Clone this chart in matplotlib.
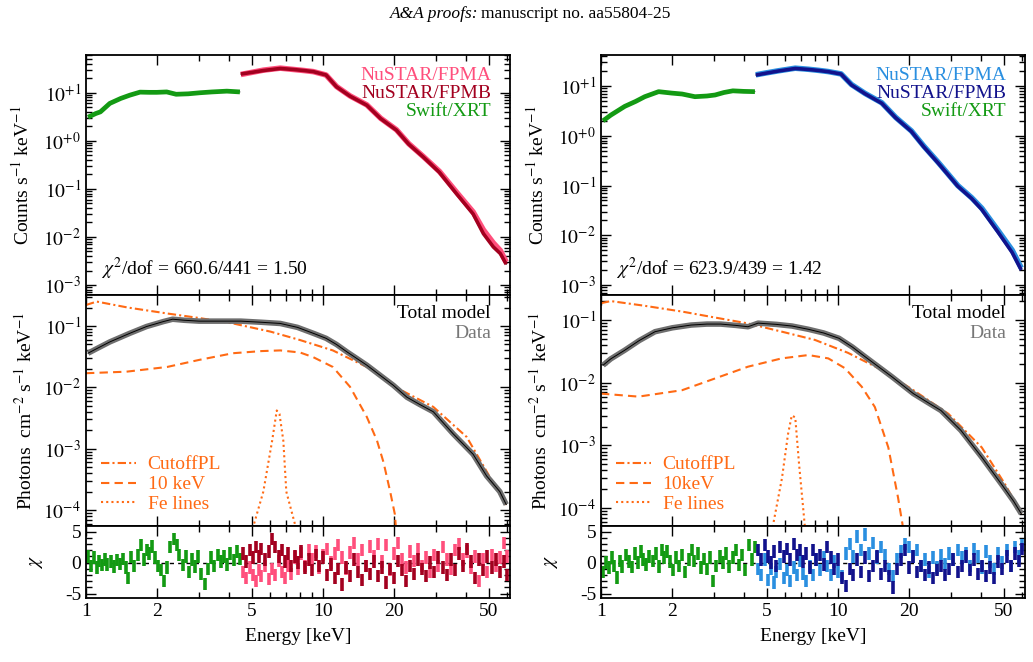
import numpy as np
import matplotlib
matplotlib.use("Agg")
import matplotlib.pyplot as plt
from matplotlib.ticker import FixedLocator, FuncFormatter, NullFormatter
from matplotlib.lines import Line2D

plt.rcParams['font.family'] = ['Liberation Serif', 'DejaVu Serif']
plt.rcParams['mathtext.fontset'] = 'stix'

# ---------------- data ----------------
# Top panels: folded count spectra
swift_E_L = [1.02, 1.1, 1.15, 1.26, 1.4, 1.53, 1.69, 1.85, 1.99, 2.19, 2.4, 2.7, 3.03, 3.4, 3.93, 4.46]
swift_C_L = [3.1, 3.7, 4.0, 6.0, 7.6, 8.9, 10.3, 10.2, 10.2, 10.4, 9.3, 9.5, 10.0, 10.4, 10.8, 10.4]
nuA_E_L = [4.5, 5.0, 5.6, 6.6, 7.5, 8.3, 9.1, 10.3, 11.4, 13.0, 15.3, 17.5, 20.4, 23.0, 26.5, 31.0, 36.6, 43.0, 47.5, 52.3, 56.0, 59.3]
nuA_C_L = [24.0, 26.5, 29.5, 32.5, 30.5, 29.0, 27.5, 23.4, 13.5, 8.6, 5.6, 2.95, 1.7, 0.87, 0.47, 0.23, 0.085, 0.033, 0.014, 0.0075, 0.0052, 0.0030]
nuB_C_L = [24.5, 26.5, 29.0, 32.0, 30.5, 29.0, 27.5, 23.4, 13.3, 8.5, 5.5, 2.9, 1.67, 0.85, 0.46, 0.22, 0.079, 0.030, 0.0117, 0.0062, 0.0045, 0.0027]

swift_E_R = [1.02, 1.1, 1.26, 1.4, 1.53, 1.75, 1.99, 2.2, 2.49, 2.8, 3.03, 3.3, 3.6, 4.0, 4.46]
swift_C_R = [2.0, 2.6, 3.9, 4.9, 6.1, 7.7, 7.2, 6.9, 6.1, 6.3, 6.6, 7.4, 8.0, 7.8, 7.7]
nuA_E_R = [4.5, 5.0, 5.6, 6.6, 7.5, 8.3, 9.1, 10.3, 11.4, 13.0, 15.3, 17.5, 20.4, 23.0, 26.5, 32.0, 36.6, 40.4, 47.5, 54.3, 59.3]
nuA_C_R = [16.8, 18.4, 20.2, 22.8, 21.7, 20.6, 19.5, 17.5, 10.7, 7.1, 4.6, 2.35, 1.25, 0.62, 0.29, 0.10, 0.057, 0.035, 0.0122, 0.0050, 0.0022]
nuB_C_R = [16.6, 18.2, 20.0, 22.5, 21.5, 20.5, 19.4, 17.4, 10.5, 7.0, 4.5, 2.3, 1.22, 0.60, 0.28, 0.097, 0.055, 0.033, 0.0113, 0.0045, 0.0020]

# Middle panels: unfolded spectra and model components
unf_E_L = [1.02, 1.1, 1.26, 1.53, 1.8, 2.12, 2.32, 2.6, 3.0, 3.6, 4.5, 5.5, 6.6, 7.8, 9.1, 10.3, 11.4, 12.6, 15.3, 17.5, 19.8, 22.6, 25.5, 29.2, 35.4, 43.0, 49.0, 55.7, 59.3]
unf_F_L = [0.036, 0.042, 0.055, 0.076, 0.098, 0.118, 0.129, 0.124, 0.12, 0.12, 0.12, 0.115, 0.11, 0.095, 0.076, 0.063, 0.05, 0.038, 0.023, 0.0155, 0.0108, 0.0069, 0.0053, 0.0040, 0.00175, 8.1e-4, 3.6e-4, 2.0e-4, 1.23e-4]
cpl_E_L = [1.0, 1.11, 1.5, 2.2, 3.0, 4.17, 6.0, 8.0, 11.0, 15.3, 20.8, 29.2, 40.4, 50.7, 59.3]
cpl_F_L = [0.22, 0.25, 0.20, 0.16, 0.135, 0.11, 0.081, 0.059, 0.040, 0.0215, 0.0095, 0.0048, 0.00155, 3.4e-4, 1.2e-4]
k10_E_L = [1.0, 1.48, 2.2, 3.0, 4.17, 5.5, 6.6, 8.0, 9.1, 11.0, 13.0, 15.3, 16.9, 18.0, 19.2, 20.1, 20.4]
k10_F_L = [0.017, 0.018, 0.0215, 0.028, 0.036, 0.039, 0.040, 0.037, 0.031, 0.0215, 0.0102, 0.0033, 0.00135, 6e-4, 2.0e-4, 8.5e-5, 4e-5]
fe_E_L = [5.05, 5.6, 6.1, 6.38, 6.55, 6.8, 7.0, 7.7]
fe_F_L = [5e-5, 2e-4, 0.00135, 0.0042, 0.0037, 0.00135, 2e-4, 5e-5]

unf_E_R = [1.02, 1.1, 1.26, 1.45, 1.69, 2.0, 2.4, 2.8, 3.2, 3.7, 4.17, 4.6, 5.5, 6.4, 7.5, 8.7, 10.1, 11.5, 13.0, 16.9, 20.8, 24.0, 27.2, 33.0, 40.4, 49.0, 55.0, 59.3]
unf_F_R = [0.019, 0.024, 0.033, 0.047, 0.065, 0.075, 0.083, 0.086, 0.086, 0.082, 0.078, 0.089, 0.085, 0.080, 0.071, 0.062, 0.051, 0.037, 0.026, 0.0124, 0.0067, 0.0048, 0.0036, 0.00174, 6.5e-4, 2.4e-4, 1.3e-4, 8.2e-5]
cpl_E_R = [1.0, 1.1, 1.5, 2.2, 3.0, 4.17, 6.0, 8.0, 11.0, 15.3, 20.8, 29.2, 40.4, 50.7, 59.3]
cpl_F_R = [0.185, 0.2, 0.17, 0.136, 0.11, 0.088, 0.063, 0.048, 0.030, 0.016, 0.0076, 0.0032, 9.3e-4, 2.4e-4, 8.2e-5]
k10_E_R = [1.0, 1.44, 2.2, 3.03, 4.17, 5.78, 7.5, 9.1, 10.7, 12.6, 14.3, 16.3, 17.9, 18.7, 19.0]
k10_F_R = [0.0067, 0.006, 0.0076, 0.0117, 0.018, 0.0244, 0.0276, 0.0244, 0.017, 0.0086, 0.0041, 9.3e-4, 1.5e-4, 5.6e-5, 3e-5]
fe_E_R = [5.3, 5.8, 6.15, 6.38, 6.6, 6.85, 7.25]
fe_F_R = [5e-5, 3e-4, 0.0015, 0.0030, 0.0028, 5e-4, 5e-5]

# Bottom panels: residuals (chi)
res_swift_E = [1.02, 1.05, 1.08, 1.11, 1.14, 1.17, 1.2, 1.23, 1.27, 1.31, 1.35, 1.39, 1.43, 1.47, 1.51, 1.55, 1.6, 1.65, 1.7, 1.75,
               1.8, 1.85, 1.9, 1.96, 2.02, 2.08, 2.14, 2.2, 2.27, 2.34, 2.41, 2.48, 2.56, 2.64, 2.72, 2.8, 2.89, 2.98, 3.07, 3.17,
               3.27, 3.37, 3.48, 3.59, 3.7, 3.82, 3.94, 4.07, 4.2, 4.33, 4.45]
res_swift_L = [1.0, -0.5, 0.8, -0.8, 0.3, -0.4, 0.5, -0.3, 0.2, -0.6, 0.4, -0.2, 0.6, -0.8, -2.5, 0.9, -0.5, 1.2, 2.8, 0.5,
               2.0, 1.5, 2.6, 0.8, -0.5, -1.2, -3.0, -0.8, 2.5, 3.8, 2.8, 1.2, -0.4, 1.0, -1.5, 0.5, -0.6, 1.0, -1.8, -3.4,
               -1.0, 0.8, -0.5, 1.2, 0.2, 1.0, -0.3, 1.5, 0.4, 1.8, 0.6]
res_swift_R = [-1.5, 0.0, -0.8, 0.8, -0.5, -2.4, 0.3, -0.6, 1.2, 0.2, -0.7, 1.5, 0.0, 1.8, 0.5, -0.3, 1.0, 0.3, 1.5, -0.6,
               2.0, 0.8, 1.8, 0.2, -1.2, 0.8, -0.5, 1.2, -1.5, 0.5, 2.0, 0.3, 1.5, -0.8, 0.6, -1.0, 0.8, -3.0, -0.5, 1.0,
               0.0, 1.5, -0.6, 0.8, 2.0, -0.4, 1.2, -1.2, 2.8, 0.5, 2.5]
res_nu_E = [4.6, 4.75, 4.9, 5.05, 5.2, 5.35, 5.5, 5.7, 5.9, 6.1, 6.3, 6.5, 6.7, 6.9, 7.1, 7.35, 7.6, 7.85, 8.1, 8.4,
            8.7, 9.0, 9.3, 9.65, 10.0, 10.4, 10.8, 11.2, 11.6, 12.0, 12.5, 13.0, 13.5, 14.0, 14.6, 15.2, 15.8, 16.4, 17.0, 17.7,
            18.4, 19.1, 19.9, 20.7, 21.5, 22.4, 23.3, 24.2, 25.2, 26.2, 27.3, 28.4, 29.5, 30.7, 32.0, 33.3, 34.6, 36.0, 37.5, 39.0,
            40.6, 42.2, 43.9, 45.7, 47.5, 49.4, 51.4, 53.5, 55.6, 57.8, 60.0]
res_A_L = [-1.5, -2.5, -0.8, -2.0, -3.0, -1.2, -2.2, -0.5, -2.6, -1.0, -2.0, 0.3, -1.5, -2.5, -0.5, -1.8, 0.8, -1.0, 1.5, -0.5,
           2.0, 0.5, 1.8, -0.8, 1.2, 2.2, 0.0, 1.5, 2.8, 0.8, -1.0, 1.6, 3.2, 0.5, 2.0, -0.5, 2.6, 1.0, 3.0, 0.2,
           2.8, -1.2, 1.5, 3.2, 0.5, -0.8, 1.8, 0.3, 2.2, -0.5, 0.8, -1.5, 1.2, -0.5, 2.5, 0.5, -1.0, 2.0, 3.0, 0.5,
           1.8, -0.8, 1.0, -3.0, 0.5, -1.5, 1.2, -0.5, 0.8, 3.2, 1.0]
res_B_L = [1.5, 0.2, 2.0, 0.8, 2.5, 1.0, 2.2, 0.5, 1.8, 3.8, 2.5, 1.0, 2.0, 0.2, 1.5, -0.5, 1.0, 0.0, 1.8, -0.8,
           0.5, -1.2, 1.2, -0.5, 0.8, -2.0, -0.3, -2.5, -1.0, -3.5, -0.8, -2.2, 0.5, -1.5, -2.8, -0.5, -1.8, 0.2, -2.2, -0.8,
           -3.2, -1.0, -2.5, 0.3, -1.2, -3.0, -0.5, -1.8, 0.5, -1.0, -2.2, 0.0, -1.5, 0.8, -0.8, -2.0, 0.5, -1.2, 1.5, -0.5,
           2.2, 0.2, -2.5, 0.5, -1.2, 1.0, -0.8, 0.5, -1.5, 0.2, -2.0]
res_A_R = [-1.0, -2.0, 0.5, -2.8, -1.0, -3.2, -1.5, -0.2, -2.5, -1.2, -3.0, -0.8, -2.0, 0.3, -1.8, -3.0, -0.5, -2.0, 0.5, -1.2,
           0.8, -0.5, -2.0, 0.2, -1.5, -2.2, 1.5, 3.0, 1.0, 4.2, 2.0, 4.5, 1.5, 3.2, 0.8, 2.5, 1.2, -1.0, -2.2, 0.5,
           1.8, 3.0, 2.5, 1.0, 2.0, -0.5, 0.5, -1.5, 0.8, -0.8, 1.2, -0.2, 1.5, 0.5, 2.0, 0.8, 1.5, -0.5, 2.2, 1.0,
           -0.8, 1.8, 0.2, -1.0, 1.5, 0.0, 2.0, -0.5, 2.5, 1.0, 2.8]
res_B_R = [2.0, 0.5, 2.8, 1.0, 0.0, 1.8, -0.5, 2.5, 1.0, 2.2, 0.5, 3.0, 1.2, 2.0, 0.2, 1.5, -0.8, 2.0, 0.5, 1.2,
           -0.3, 2.5, 0.8, -1.0, 0.5, -2.5, -3.8, -1.0, -2.0, 0.5, -1.5, 0.8, -2.2, -0.5, 1.0, -1.8, -0.5, -2.2, -4.0, -1.0,
           0.5, 2.0, -0.8, 1.0, -1.5, -0.5, -2.0, -0.8, -2.5, -1.2, -0.5, -2.0, -1.0, 0.5, -1.5, -0.5, 1.0, -1.2, 0.5, -1.8,
           -0.5, -2.2, -0.8, -2.5, 0.2, -1.0, 1.0, -0.5, 1.5, 0.3, 2.2]

chi_text = [r'$\chi^2$/dof = 660.6/441 = 1.50', r'$\chi^2$/dof = 623.9/439 = 1.42']
comp_labels = [['CutoffPL', '10 keV', 'Fe lines'], ['CutoffPL', '10keV', 'Fe lines']]

GREEN = '#139a13'
ORANGE = '#ff6a14'
GRAY = '#6e6e6e'
colsA = ['#ff4f7c', '#2a8fe0']
colsB = ['#a3001f', '#12128c']

# ---------------- figure ----------------
W, H = 1033, 662
fig = plt.figure(figsize=(W / 100, H / 100), dpi=100)

def box(x0, x1, y0, y1):
    return [x0 / W, 1 - y1 / H, (x1 - x0) / W, (y1 - y0) / H]

FS = 14

def logfmt(v, pos):
    e = int(round(np.log10(v)))
    if e >= 0:
        return r'$10^{+%d}$' % e
    return r'$10^{-%d}$' % (-e)

def style(ax, xlabels=False):
    ax.set_xscale('log')
    ax.set_xlim(1, 61.5)
    ax.xaxis.set_major_locator(FixedLocator([1, 2, 5, 10, 20, 50]))
    ax.xaxis.set_minor_locator(FixedLocator([3, 4, 6, 7, 8, 9, 30, 40, 60]))
    if xlabels:
        ax.xaxis.set_major_formatter(FuncFormatter(lambda v, p: '%d' % v))
    else:
        ax.xaxis.set_major_formatter(NullFormatter())
    ax.xaxis.set_minor_formatter(NullFormatter())
    ax.tick_params(which='both', direction='in', top=True, right=True, labelsize=FS, width=1.0)
    ax.tick_params(which='major', length=7)
    ax.tick_params(which='minor', length=4)
    for s in ax.spines.values():
        s.set_linewidth(1.3)

xl = [(86, 510), (601, 1025)]
top_ylim = [(6.2e-4, 61), (6.3e-4, 42)]
mid_ylim = [(5.5e-5, 0.32), (5.2e-5, 0.25)]

data = [
    dict(sE=swift_E_L, sC=swift_C_L, nE=nuA_E_L, A=nuA_C_L, B=nuB_C_L,
         uE=unf_E_L, uF=unf_F_L, cE=cpl_E_L, cF=cpl_F_L, kE=k10_E_L, kF=k10_F_L, fE=fe_E_L, fF=fe_F_L,
         rs=res_swift_L, rA=res_A_L, rB=res_B_L),
    dict(sE=swift_E_R, sC=swift_C_R, nE=nuA_E_R, A=nuA_C_R, B=nuB_C_R,
         uE=unf_E_R, uF=unf_F_R, cE=cpl_E_R, cF=cpl_F_R, kE=k10_E_R, kF=k10_F_R, fE=fe_E_R, fF=fe_F_R,
         rs=res_swift_R, rA=res_A_R, rB=res_B_R),
]

for i in range(2):
    x0, x1 = xl[i]
    d = data[i]
    # ---- top ----
    ax1 = fig.add_axes(box(x0, x1, 55, 295))
    style(ax1)
    ax1.set_yscale('log')
    ax1.set_ylim(*top_ylim[i])
    ax1.plot(d['sE'], d['sC'], color='k', lw=0.6, zorder=1)
    ax1.plot(d['nE'], d['B'], color='k', lw=0.6, zorder=1)
    ax1.plot(d['sE'], d['sC'], color=GREEN, lw=3.4, solid_capstyle='butt', zorder=2)
    ax1.plot(d['nE'], d['A'], color=colsA[i], lw=4.0, solid_capstyle='butt', zorder=2)
    ax1.plot(d['nE'], d['B'], color=colsB[i], lw=2.6, solid_capstyle='butt', zorder=3)
    ax1.yaxis.set_major_locator(FixedLocator([1e-3, 1e-2, 1e-1, 1, 10]))
    ax1.yaxis.set_major_formatter(FuncFormatter(logfmt))
    ax1.set_ylabel(r'Counts s$^{-1}$ keV$^{-1}$', fontsize=FS, labelpad=8)
    ax1.text(0.955, 0.915, 'NuSTAR/FPMA', color=colsA[i], fontsize=FS, ha='right', va='center', transform=ax1.transAxes)
    ax1.text(0.955, 0.84, 'NuSTAR/FPMB', color=colsB[i], fontsize=FS, ha='right', va='center', transform=ax1.transAxes)
    ax1.text(0.955, 0.765, 'Swift/XRT', color=GREEN, fontsize=FS, ha='right', va='center', transform=ax1.transAxes)
    ax1.text(0.035, 0.11, chi_text[i], color='k', fontsize=FS, ha='left', va='center', transform=ax1.transAxes)

    # ---- middle ----
    ax2 = fig.add_axes(box(x0, x1, 295, 526))
    style(ax2)
    ax2.set_yscale('log')
    ax2.set_ylim(*mid_ylim[i])
    ax2.plot(d['cE'], d['cF'], color=ORANGE, lw=1.5, ls=(0, (4, 1.5, 1, 1.5)), zorder=2)
    ax2.plot(d['kE'], d['kF'], color=ORANGE, lw=1.5, ls=(0, (4, 2.5)), zorder=2)
    ax2.plot(d['fE'], d['fF'], color=ORANGE, lw=1.5, ls=(0, (1, 1.5)), zorder=2)
    ax2.plot(d['uE'], d['uF'], color=GRAY, lw=4.0, solid_capstyle='butt', zorder=3)
    ax2.plot(d['uE'], d['uF'], color='k', lw=0.7, zorder=4)
    ax2.yaxis.set_major_locator(FixedLocator([1e-4, 1e-3, 1e-2, 1e-1]))
    ax2.yaxis.set_major_formatter(FuncFormatter(logfmt))
    ax2.set_ylabel(r'Photons  cm$^{-2}$ s$^{-1}$ keV$^{-1}$', fontsize=FS, labelpad=6)
    ax2.text(0.955, 0.92, 'Total model', color='k', fontsize=FS, ha='right', va='center', transform=ax2.transAxes)
    ax2.text(0.955, 0.835, 'Data', color='#777777', fontsize=FS, ha='right', va='center', transform=ax2.transAxes)
    handles = [Line2D([], [], color=ORANGE, lw=1.5, ls=(0, (4, 1.5, 1, 1.5))),
               Line2D([], [], color=ORANGE, lw=1.5, ls=(0, (4, 2.5))),
               Line2D([], [], color=ORANGE, lw=1.5, ls=(0, (1, 1.5)))]
    ax2.legend(handles, comp_labels[i], loc='lower left', bbox_to_anchor=(0.035, 0.055), frameon=False,
               fontsize=FS, labelcolor=ORANGE, handlelength=1.8, handletextpad=0.6, labelspacing=0.12,
               borderaxespad=0, borderpad=0)

    # ---- bottom ----
    ax3 = fig.add_axes(box(x0, x1, 526, 598))
    style(ax3, xlabels=True)
    ax3.set_ylim(-5.7, 5.9)
    ax3.axhline(0, color='k', lw=1.0, ls=(0, (3, 3)), zorder=1)
    ax3.errorbar(res_swift_E, d['rs'], yerr=1.0, fmt='none', ecolor=GREEN, elinewidth=2.6, zorder=2)
    ax3.errorbar(res_nu_E, d['rA'], yerr=1.0, fmt='none', ecolor=colsA[i], elinewidth=2.6, zorder=2)
    ax3.errorbar(res_nu_E, d['rB'], yerr=1.0, fmt='none', ecolor=colsB[i], elinewidth=2.6, zorder=3)
    ax3.yaxis.set_major_locator(FixedLocator([-5, 0, 5]))
    ax3.yaxis.set_minor_locator(FixedLocator([-4, -3, -2, -1, 1, 2, 3, 4]))
    ax3.yaxis.set_major_formatter(FuncFormatter(lambda v, p: '%d' % v))
    ax3.set_ylabel(r'$\chi$', fontsize=FS, labelpad=14)
    ax3.set_xlabel('Energy [keV]', fontsize=FS, labelpad=6)

fig.text(478 / W, 1 - 14 / H, 'A&A proofs:', fontsize=12.5, fontstyle='italic', ha='right', va='center')
fig.text(481 / W, 1 - 14 / H, 'manuscript no. aa55804-25', fontsize=12.5, ha='left', va='center')

fig.savefig('out.png', dpi=100)
